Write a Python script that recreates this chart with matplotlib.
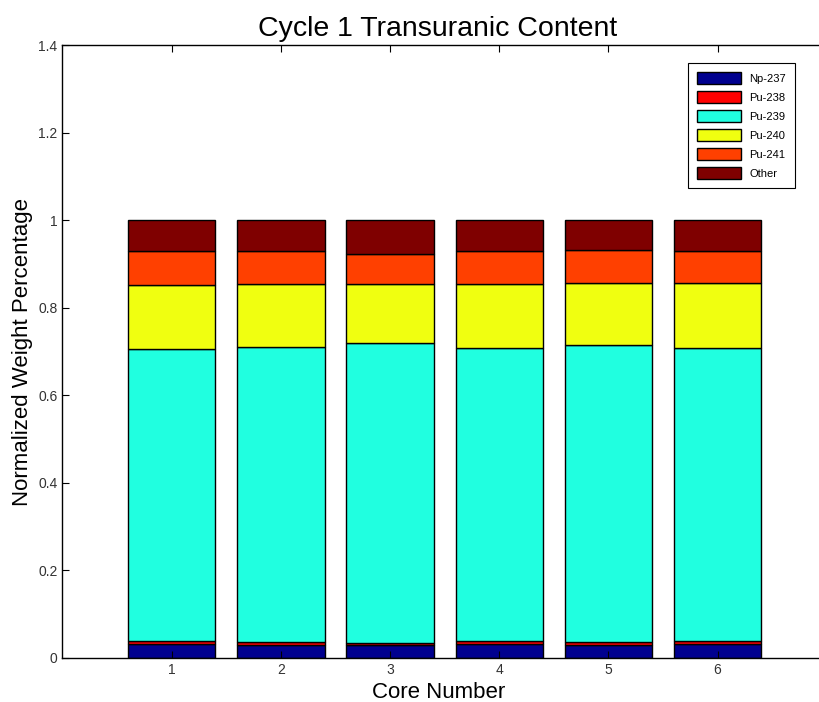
import numpy as np
import matplotlib.pyplot as plt

plt.rcParams['font.family'] = ['Liberation Sans', 'DejaVu Sans']

cores = [1, 2, 3, 4, 5, 6]
isotopes = ['Np-237', 'Pu-238', 'Pu-239', 'Pu-240', 'Pu-241', 'Other']
np237 = [0.031, 0.030, 0.029, 0.031, 0.030, 0.031]
pu238 = [0.008, 0.007, 0.006, 0.008, 0.007, 0.008]
pu239 = [0.667, 0.674, 0.685, 0.669, 0.678, 0.669]
pu240 = [0.146, 0.144, 0.135, 0.146, 0.142, 0.149]
pu241 = [0.078, 0.076, 0.069, 0.076, 0.076, 0.073]
other = [0.070, 0.069, 0.076, 0.070, 0.067, 0.070]
colors = ['#00008F', '#FF0000', '#20FFE0', '#F0FF10', '#FF4000', '#7F0000']

fig = plt.figure(figsize=(8.2, 7.02), dpi=100)
ax = fig.add_axes([0.0762, 0.0627, 0.932, 0.8725])

bottom = np.zeros(len(cores))
for name, vals, c in zip(isotopes, [np237, pu238, pu239, pu240, pu241, other], colors):
    ax.bar(cores, vals, width=0.8, bottom=bottom, color=c, edgecolor='black',
           linewidth=1, label=name)
    bottom += np.array(vals)

ax.set_xlim(0, 7)
ax.set_ylim(0, 1.4)
ax.set_xticks(cores)
ax.set_yticks([0, 0.2, 0.4, 0.6, 0.8, 1.0, 1.2, 1.4])
ax.set_yticklabels(['0', '0.2', '0.4', '0.6', '0.8', '1', '1.2', '1.4'])
ax.tick_params(direction='in', top=True, right=True, labelsize=10,
               labelcolor='#333333', length=5)
for s in ax.spines.values():
    s.set_linewidth(1)

ax.set_title('Cycle 1 Transuranic Content', fontsize=20.5, pad=7, x=0.491)
ax.set_xlabel('Core Number', fontsize=16, labelpad=4, x=0.492)
ax.set_ylabel('Normalized Weight Percentage', fontsize=16, labelpad=4)

leg = ax.legend(loc='upper right', bbox_to_anchor=(0.9695, 0.9103),
                bbox_transform=fig.transFigure, fontsize=8, fancybox=False,
                edgecolor='black', framealpha=1, handlelength=3.9,
                handleheight=1.3, handletextpad=0.8, labelspacing=0.62,
                borderpad=0.8, borderaxespad=0)
leg.get_frame().set_linewidth(0.8)

fig.savefig('out.png', dpi=100)
